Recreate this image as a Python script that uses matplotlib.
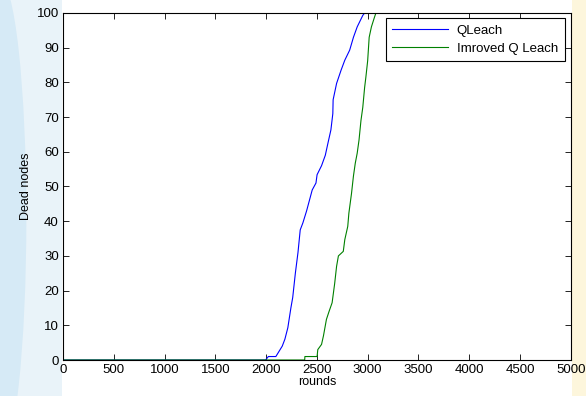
import matplotlib
matplotlib.use("Agg")
import matplotlib.pyplot as plt
from matplotlib.patches import Rectangle, Ellipse

plt.rcParams['font.family'] = ['Liberation Sans', 'DejaVu Sans']

# QLeach
q_rounds = [0, 1995, 2022, 2096, 2159, 2185, 2214, 2244, 2262, 2288, 2314, 2336, 2362, 2399,
            2454, 2491, 2502, 2546, 2583, 2609, 2638, 2657, 2660, 2694, 2738, 2775, 2823,
            2860, 2897, 2952, 2970, 5000]
q_dead = [0, 0, 1, 1, 4, 6, 9.3, 15, 18, 25, 31, 37.5, 39.5, 43,
          49, 51, 53.4, 56, 59, 62.5, 66.3, 71, 75, 79.7, 83.5, 86.4, 89.3,
          93, 96, 99.3, 100, 100]

# Improved Q Leach
iq_rounds = [0, 2380, 2382, 2502, 2509, 2546, 2565, 2594, 2620, 2650, 2675, 2694, 2712,
             2760, 2775, 2804, 2815, 2841, 2860, 2878, 2897, 2915, 2934, 2952, 2970,
             2982, 3000, 3015, 3037, 3063, 3081, 5000]
iq_dead = [0, 0, 1, 1, 3, 4.5, 7, 11.7, 14, 16.5, 22, 27, 30,
           31.3, 34.7, 38.5, 42.3, 48, 53, 56.7, 59.6, 63.4, 69, 72.8, 78.5,
           81.4, 86.2, 93, 96, 98.4, 100, 100]

x_ticks = [0, 500, 1000, 1500, 2000, 2500, 3000, 3500, 4000, 4500, 5000]
y_ticks = [0, 10, 20, 30, 40, 50, 60, 70, 80, 90, 100]

fig = plt.figure(figsize=(5.86, 3.96), dpi=100)
fig.patch.set_facecolor('white')
# faint background watermark tints
fig.patches.append(Rectangle((0.0, 0.0), 0.105, 1.0, transform=fig.transFigure,
                             facecolor='#e9f3f9', edgecolor='none', zorder=-10))
fig.patches.append(Ellipse((0.0, 0.45), 0.09, 1.2, transform=fig.transFigure,
                           facecolor='#d6eaf6', edgecolor='none', zorder=-9))
fig.patches.append(Rectangle((0.976, 0.0), 0.024, 1.0, transform=fig.transFigure,
                             facecolor='#fdf6dc', edgecolor='none', zorder=-10))

ax = fig.add_axes([0.1075, 0.0909, 0.8665, 0.8763])
ax.plot(q_rounds, q_dead, color='#0000ff', lw=0.8, label='QLeach')
ax.plot(iq_rounds, iq_dead, color='#008000', lw=0.8, label='Imroved Q Leach')

ax.set_xlim(0, 5000)
ax.set_ylim(0, 100)
ax.set_xticks(x_ticks)
ax.set_yticks(y_ticks)
ax.tick_params(direction='in', top=True, right=True, labelsize=9.5, length=4, width=0.6,
               pad=3)
for s in ax.spines.values():
    s.set_linewidth(0.8)
ax.set_xlabel('rounds', fontsize=9, labelpad=0)
ax.set_ylabel('Dead nodes', fontsize=9, labelpad=3)

leg = ax.legend(loc='upper right', fontsize=9.5, fancybox=False, edgecolor='black',
                framealpha=1, handlelength=4.2, handletextpad=0.7, borderpad=0.5,
                labelspacing=0.45, borderaxespad=0, bbox_to_anchor=(0.988, 0.986))
leg.get_frame().set_linewidth(0.8)

fig.savefig('out.png', dpi=100)
